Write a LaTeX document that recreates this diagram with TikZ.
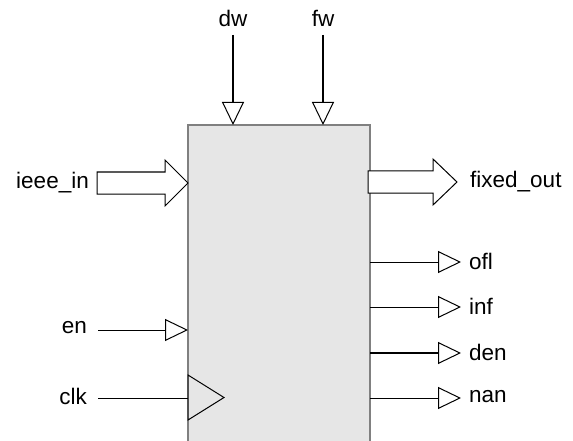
\documentclass[tikz,border=0pt]{standalone}
\usepackage{fontspec}
\setmainfont{Liberation Sans}
\usetikzlibrary{arrows.meta}
\definecolor{boxfill}{HTML}{E6E6E6}
\definecolor{boxedge}{HTML}{808080}
\tikzset{
  lbl/.style={inner sep=0pt, font=\fontsize{22.5}{26}\selectfont},
  pin/.style={line width=1pt, -{Triangle[length=23pt,width=22pt,fill=white,line width=1pt]}},
  bigarrow/.style={draw=black, fill=white, line width=1pt, line join=miter},
}
\begin{document}
\begin{tikzpicture}[x=1pt,y=-1pt]
\useasboundingbox (0,0) rectangle (573,441);
\clip (0,0) rectangle (573,441);
\fill[white] (0,0) rectangle (573,441);
% block
\path[fill=boxfill, draw=boxedge, line width=1.5pt] (188,450) -- (188,125) -- (370,125) -- (370,450);
% pins on block
\coordinate (pdw) at (233,125);
\coordinate (pfw) at (323,125);
\coordinate (pen) at (188,330);
\coordinate (pclk) at (188,398);
\coordinate (pofl) at (370,262);
\coordinate (pinf) at (370,307);
\coordinate (pden) at (370,353);
\coordinate (pnan) at (370,398);
% labels
\node[lbl, anchor=base] (ldw) at (233,27) {dw};
\node[lbl, anchor=base] (lfw) at (323,27) {fw};
\node[lbl, anchor=east] (lieee) at (89,183) {ieee\_in};
\node[lbl, anchor=west] (lfixed) at (470,182) {fixed\_out};
\node[lbl, anchor=east] (len) at (87,328) {en};
\node[lbl, anchor=east] (lclk) at (87,396) {clk};
\node[lbl, anchor=west] (lofl) at (469,261) {ofl};
\node[lbl, anchor=west] (linf) at (469,306) {inf};
\node[lbl, anchor=west] (lden) at (469,352) {den};
\node[lbl, anchor=west] (lnan) at (469,397) {nan};
% top inputs
\coordinate (sdw) at (233,35);
\coordinate (sfw) at (323,35);
\draw[pin, line width=1.4pt] (sdw) -- (pdw);
\draw[pin, line width=1.4pt] (sfw) -- (pfw);
% en
\coordinate (sen) at (98,330);
\draw[pin] (sen) -- (pen);
% clk
\coordinate (sclk) at (98,398);
\draw[line width=1pt] (sclk) -- (pclk);
\draw[fill=boxfill, draw=black, line width=1pt, line join=miter] (188,375) -- (224,397.5) -- (188,420) -- cycle;
% outputs
\coordinate (eofl) at (461,262);
\coordinate (einf) at (461,307);
\coordinate (eden) at (461,353);
\coordinate (enan) at (461,398);
\draw[pin] (pofl) -- (eofl);
\draw[pin] (pinf) -- (einf);
\draw[pin, line width=1.3pt] (pden) -- (eden);
\draw[pin] (pnan) -- (enan);
% bus arrows
\draw[bigarrow] (97,172) -- (165,172) -- (165,160) -- (188,183) -- (165,206) -- (165,194) -- (97,194) -- cycle;
\draw[bigarrow] (368,171) -- (433,171) -- (433,159) -- (457,182) -- (433,205) -- (433,193) -- (368,193) -- cycle;
\end{tikzpicture}
\end{document}
